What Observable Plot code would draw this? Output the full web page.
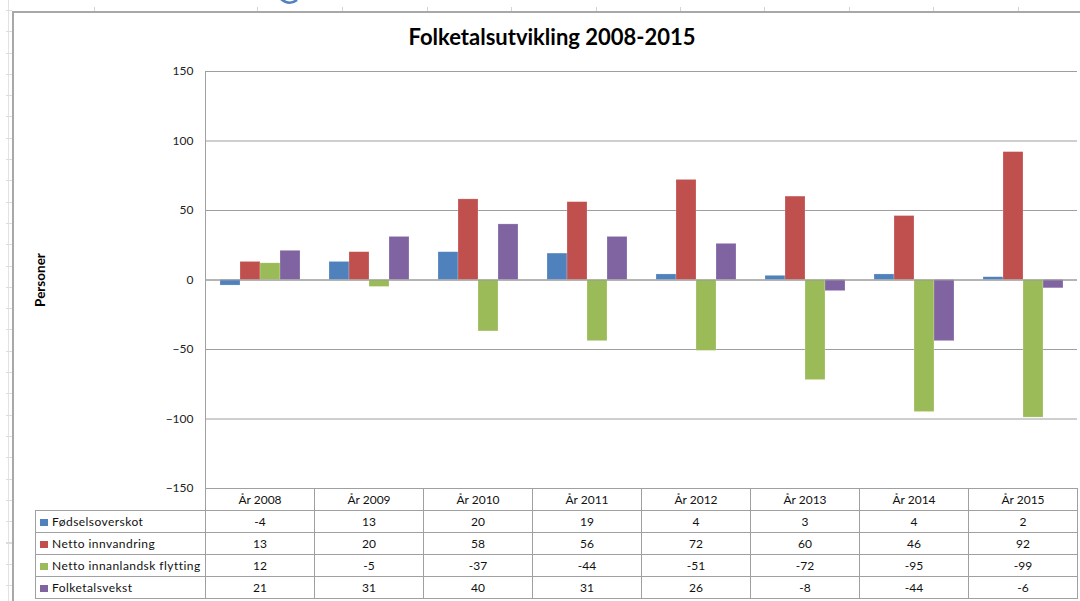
<!DOCTYPE html>
<html>
<head>
<meta charset="utf-8">
<script src="https://cdn.jsdelivr.net/npm/d3@7"></script>
<script src="https://cdn.jsdelivr.net/npm/@observablehq/plot@0.6"></script>
<style>
  html, body { margin: 0; padding: 0; background: #fff; }
  #wrap { position: relative; width: 1080px; height: 601px; overflow: hidden; background: #fff; font-family: Lato, "Open Sans", sans-serif; }
  #frame { position: absolute; left: 12px; top: 11px; width: 1080px; height: 600px; border-left: 2px solid #a8a8a8; border-top: 2px solid #a8a8a8; }
  #sheetline { position: absolute; left: 8px; top: 0; width: 1px; height: 601px; background: #e2e2e2; }
  #rowticks { position: absolute; left: 6px; top: 0; width: 6px; height: 601px;
    background: repeating-linear-gradient(to bottom, transparent 0px, transparent 10px, #dcdcdc 10px, #dcdcdc 11px, transparent 11px, transparent 21.3px); }
  .coltick { position: absolute; top: 7px; width: 1px; height: 4px; background: #d4d4d4; }
  #title { position: absolute; left: 0; top: 23px; width: 1104px; text-align: center; font-family: Lato, sans-serif; font-weight: bold; font-size: 22px; color: #000; }
  #chart { position: absolute; left: 0; top: 0; }
  #tbl { position: absolute; left: 35px; top: 488px; border-collapse: collapse; table-layout: fixed; width: 1042px; font-family: Lato, sans-serif; font-size: 12px; color: #111; }
  #tbl td { border: 1px solid #a0a0a0; height: 21px; padding: 0; text-align: center; vertical-align: middle; line-height: 20px; white-space: nowrap; overflow: hidden; }
  #tbl td.corner { border: none; border-bottom: 1px solid #a0a0a0; }
  #tbl td.lab { text-align: left; padding-left: 4px; letter-spacing: 0.45px; }
  .sw { display: inline-block; width: 8px; height: 7px; margin-right: 4px; vertical-align: 0px; }
</style>
</head>
<body>
<div id="wrap">
  <div id="sheetline"></div>
  <div id="rowticks"></div>
  <svg style="position:absolute;left:276px;top:0" width="26" height="8"><path d="M5,-1 Q13,6 21,0" fill="none" stroke="#4F81BD" stroke-width="2.6"/></svg>
  <div id="frame"></div>
  <div id="chart"></div>
  <div id="title"></div>
  <table id="tbl"></table>
</div>
<script>
const years = ["År 2008", "År 2009", "År 2010", "År 2011", "År 2012", "År 2013", "År 2014", "År 2015"];
const series = ["Fødselsoverskot", "Netto innvandring", "Netto innanlandsk flytting", "Folketalsvekst"];
const fodselsoverskot = [-4, 13, 20, 19, 4, 3, 4, 2];
const nettoInnvandring = [13, 20, 58, 56, 72, 60, 46, 92];
const nettoInnanlandsk = [12, -5, -37, -44, -51, -72, -95, -99];
const folketalsvekst = [21, 31, 40, 31, 26, -8, -44, -6];
const colors = ["#4F81BD", "#C0504D", "#9BBB59", "#8064A2"];
const yTicks = [-150, -100, -50, 0, 50, 100, 150];
const titleText = "Folketalsutvikling 2008-2015";
const yLabel = "Personer";
const sheetColTicks = [94, 257, 342, 427, 511, 596, 680, 764, 849, 933, 1018];

const values = [fodselsoverskot, nettoInnvandring, nettoInnanlandsk, folketalsvekst];
const data = [];
years.forEach((yr, i) => series.forEach((s, j) => data.push({year: yr, series: s, value: values[j][i]})));

document.getElementById("title").textContent = titleText;
const wrap = document.getElementById("wrap");
sheetColTicks.forEach(x => {
  const d = document.createElement("div");
  d.className = "coltick";
  d.style.left = x + "px";
  wrap.appendChild(d);
});

const chart = Plot.plot({
  width: 1080,
  height: 489,
  marginLeft: 205,
  marginRight: 3,
  marginTop: 71,
  marginBottom: 1,
  style: {fontFamily: "Lato, sans-serif", fontSize: "12px", color: "#222", background: "transparent", overflow: "visible"},
  fx: {domain: years, padding: 0, axis: null},
  x: {domain: series, paddingInner: 0, paddingOuter: 0.725, axis: null},
  y: {domain: [-150, 150]},
  color: {domain: series, range: colors},
  marks: [
    Plot.gridY(yTicks, {stroke: "#9e9e9e", strokeOpacity: 1}),
    Plot.barY(data, {fx: "year", x: "series", y: "value", fill: "series", stroke: "#ffffff", strokeOpacity: 0.35, strokeWidth: 0.6}),
    Plot.ruleY([0], {stroke: "#9a9a9a"}),
    Plot.frame({anchor: "left", facetAnchor: "left", stroke: "#a0a0a0"}),
    Plot.axisY(yTicks, {tickSize: 0, tickPadding: 12, label: null, fontSize: 12}),
    Plot.text([yLabel], {fx: [years[0]], frameAnchor: "left", dx: -165, rotate: -90, textAnchor: "middle", fontWeight: "bold", fontSize: 13.5, fill: "#000"})
  ]
});
document.getElementById("chart").appendChild(chart);

// data table
const tbl = document.getElementById("tbl");
const cg = document.createElement("colgroup");
const c0 = document.createElement("col"); c0.style.width = "170px"; cg.appendChild(c0);
years.forEach(() => { const c = document.createElement("col"); c.style.width = "109px"; cg.appendChild(c); });
tbl.appendChild(cg);
const hr = document.createElement("tr");
const corner = document.createElement("td"); corner.className = "corner"; hr.appendChild(corner);
years.forEach(y => { const td = document.createElement("td"); td.textContent = y; hr.appendChild(td); });
tbl.appendChild(hr);
series.forEach((s, j) => {
  const tr = document.createElement("tr");
  const lab = document.createElement("td");
  lab.className = "lab";
  const sw = document.createElement("span");
  sw.className = "sw";
  sw.style.background = colors[j];
  lab.appendChild(sw);
  lab.appendChild(document.createTextNode(s));
  tr.appendChild(lab);
  values[j].forEach(v => { const td = document.createElement("td"); td.textContent = v; tr.appendChild(td); });
  tbl.appendChild(tr);
});
</script>
</body>
</html>
